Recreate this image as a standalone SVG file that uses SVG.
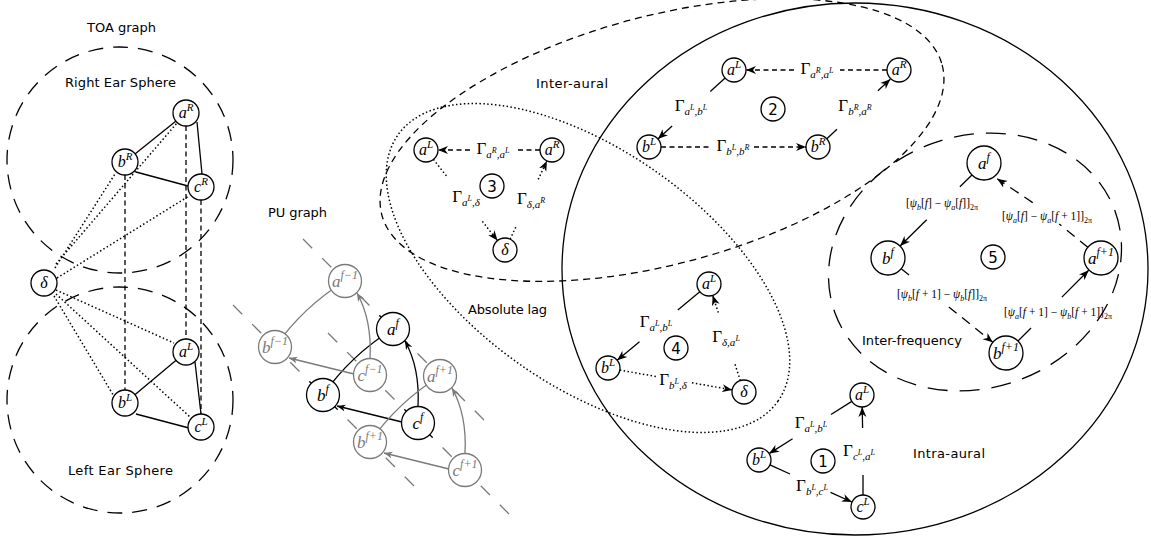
<svg xmlns="http://www.w3.org/2000/svg" width="1151" height="537" viewBox="0 0 1151 537">
<defs>
<style>
.n{fill:#fff;stroke:#000;stroke-width:1.3}
.ng{fill:#fff;stroke:#7a7a7a;stroke-width:1.3}
.e{fill:none;stroke:#000;stroke-width:1.3}
.eg{fill:none;stroke:#7a7a7a;stroke-width:1.3}
.da{stroke-dasharray:5 3.5}
.dl{stroke-dasharray:10 7}
.dt{stroke-dasharray:1.5 2.4;stroke-width:1.5}
.sph{fill:none;stroke:#000;stroke-width:1.3;stroke-dasharray:15 10}
.lbl{font-family:"DejaVu Sans",sans-serif;font-size:13px;fill:#000;text-anchor:middle}
.m{font-family:"Liberation Serif",serif;font-style:italic;font-size:16px;fill:#000;text-anchor:middle}
.mp{font-family:"Liberation Serif",serif;font-style:italic;font-size:17px;fill:#000;text-anchor:middle}
.gr{fill:#7a7a7a}
.sp{font-size:11px}
.spp{font-size:12px}
.G{font-family:"Liberation Serif",serif;font-size:17px;fill:#000;text-anchor:middle}
.s{font-style:italic;font-size:11px}
.ss{font-style:italic;font-size:8px}
.P{font-family:"Liberation Serif",serif;font-size:11.5px;fill:#000;text-anchor:middle}
.i{font-style:italic}
.s2{font-style:italic;font-size:8px}
.s2n{font-size:8px}
.num{font-family:"DejaVu Sans",sans-serif;font-size:15px;fill:#000;text-anchor:middle}
</style>
<marker id="ar" markerUnits="userSpaceOnUse" markerWidth="11" markerHeight="9" viewBox="0 0 11 9" refX="10" refY="4.5" orient="auto"><path d="M0,0.5 L10,4.5 L0,8.5 L3,4.5 z" fill="#000"/></marker>
<marker id="arp" markerUnits="userSpaceOnUse" markerWidth="9" markerHeight="7" viewBox="0 0 9 7" refX="8.5" refY="3.5" orient="auto"><path d="M0,0 L8.5,3.5 L0,7 L2.5,3.5 z" fill="#000"/></marker>
<marker id="arg" markerUnits="userSpaceOnUse" markerWidth="9" markerHeight="7" viewBox="0 0 9 7" refX="8.5" refY="3.5" orient="auto"><path d="M0,0 L8.5,3.5 L0,7 L2.5,3.5 z" fill="#7a7a7a"/></marker>
<clipPath id="blackzone">
<circle cx="393" cy="329" r="30"/><circle cx="323" cy="395" r="30"/><circle cx="418" cy="423" r="30"/>
</clipPath>
</defs>
<rect width="1151" height="537" fill="#fff"/>

<!-- regions -->
<g id="toa-right-sphere"><circle class="sph" cx="120" cy="160" r="113"/><text class="lbl" x="120.5" y="87" textLength="111">Right Ear Sphere</text></g>
<g id="toa-left-sphere"><circle class="sph" cx="120" cy="400" r="113"/><text class="lbl" x="120.5" y="475" textLength="105">Left Ear Sphere</text></g>
<g id="toa-title"><text class="lbl" x="121.5" y="32" textLength="69">TOA graph</text></g>
<g id="pu-title"><text class="lbl" x="297.5" y="217" textLength="59">PU graph</text></g>
<g id="intra-aural-region"><ellipse class="e" cx="855" cy="269" rx="293" ry="266"/><text class="lbl" x="949" y="458" textLength="72">Intra-aural</text></g>
<g id="inter-aural-region"><ellipse class="e" cx="662" cy="140" rx="290" ry="124" transform="rotate(-15 662 140)" stroke-dasharray="7 5"/><text class="lbl" x="572" y="88" textLength="72">Inter-aural</text></g>
<g id="absolute-lag-region"><ellipse class="e dt" cx="588" cy="268" rx="232" ry="118" transform="rotate(35 588 268)"/><text class="lbl" x="507.5" y="314" textLength="79">Absolute lag</text></g>
<g id="inter-frequency-region"><ellipse class="e" cx="975" cy="262" rx="149" ry="126" transform="rotate(-20 975 262)" stroke-dasharray="20 12"/><text class="lbl" x="912" y="345" textLength="100">Inter-frequency</text></g>

<!-- PU frequency lines -->
<g id="pu-frequency-lines">
<path class="eg" stroke-dasharray="13 14" d="M303,239 L484,420 M233,305 L414,486 M328,333 L509,514"/>
<g clip-path="url(#blackzone)"><path class="e" stroke-dasharray="13 14" d="M303,239 L484,420 M233,305 L414,486 M328,333 L509,514"/></g>
</g>

<!-- connectors -->
<g id="connectors">
<!-- TOA -->
<path class="e" d="M186,113 L125,162 M136,172 L188,186 M197,122 L202,174 M186,352 L125,403 M136,414 L189,428 M195,362 L201,414"/>
<path class="e da" d="M125,175 L125,390 M186,126 L186,339 M201,200 L201,414"/>
<path class="e dt" d="M56,264 L177,123 M55,268 L115,174 M57,278 L189,196 M56,290 L174,343 M54,296 L115,398 M56,294 L190,417"/>
<!-- PU -->
<path class="e" d="M323,395 Q351,355 393,329"/>
<path class="e" d="M418,406 Q420,368 405,341" marker-end="url(#arp)"/>
<path class="e" d="M402,422 L337,406" marker-end="url(#arp)"/>
<path class="eg" d="M275,347 Q303,307 345,281"/>
<path class="eg" d="M370,358 Q372,320 357,293" marker-end="url(#arg)"/>
<path class="eg" d="M354,374 L289,358" marker-end="url(#arg)"/>
<path class="eg" d="M370,442 Q398,402 440,376"/>
<path class="eg" d="M465,453 Q467,415 452,388" marker-end="url(#arg)"/>
<path class="eg" d="M449,469 L384,453" marker-end="url(#arg)"/>
<!-- Region 3 -->
<path class="e da" d="M540,150 L516,150"/><path class="e da" d="M470,150 L438,150" marker-end="url(#ar)"/>
<path class="e dt" d="M433.4,159.4 L447,176.7"/><path class="e dt" d="M482.4,221.4 L497.5,240.6" marker-end="url(#ar)"/>
<path class="e dt" d="M510.1,239.1 L516.5,225.6"/><path class="e dt" d="M538.2,179.4 L546.9,160.9" marker-end="url(#ar)"/>
<!-- Region 2 -->
<path class="e da" d="M887,70 L840,70"/><path class="e da" d="M794,70 L746,70" marker-end="url(#ar)"/>
<path class="e da" d="M661,147 L712,147"/><path class="e da" d="M754,147 L806,147" marker-end="url(#ar)"/>
<path class="e" d="M725.1,78.1 L710.3,91.5"/><path class="e" d="M672.1,126 L657.9,138.9" marker-end="url(#ar)"/>
<path class="e" d="M826.8,138.8 L837,129.2"/><path class="e" d="M877.9,90.8 L890.3,79.2" marker-end="url(#ar)"/>
<!-- Region 4 -->
<path class="e" d="M699.8,291.7 L677.8,309.9"/><path class="e" d="M639.5,341.8 L617.2,360.3" marker-end="url(#ar)"/>
<path class="e dt" d="M619.8,370.1 L658,376.8"/><path class="e dt" d="M692,382.8 L732.2,389.9" marker-end="url(#ar)"/>
<path class="e dt" d="M740.3,380.6 L734.3,362"/><path class="e dt" d="M718.3,312.6 L712.7,295.5" marker-end="url(#ar)"/>
<!-- Region 1 -->
<path class="e" d="M851.8,401.4 L831,414.5"/><path class="e" d="M792.6,438.8 L769.1,453.6" marker-end="url(#ar)"/>
<path class="e" d="M769.9,464.9 L790,474"/><path class="e" d="M830.5,492.3 L851.9,502" marker-end="url(#ar)"/>
<path class="e" d="M863,495 L863,475"/><path class="e" d="M862.6,428 L862.2,407" marker-end="url(#ar)"/>
<!-- Region 5 -->
<path class="e" d="M971.9,175 L959.9,186.8"/><path class="e" d="M926.7,219.7 L900.1,246" marker-end="url(#ar)"/>
<path class="e dl" d="M1087.8,247.3 L1059.2,224"/><path class="e dl" d="M1032.7,202.6 L997.2,178.8" marker-end="url(#ar)"/>
<path class="e dl" d="M901.2,268.7 L910.6,276.2"/><path class="e dl" d="M948.8,306.9 L992.8,342.3" marker-end="url(#ar)"/>
<path class="e" d="M1018,341 L1031,328"/><path class="e" d="M1061.9,297.1 L1088.7,270.3" marker-end="url(#ar)"/>
</g>

<!-- edge labels -->
<g id="edge-labels">
<text class="G" x="493" y="154">Γ<tspan class="s" dy="3.5">a</tspan><tspan class="ss" dy="-4.5">R</tspan><tspan class="s" dy="4.5">,a</tspan><tspan class="ss" dy="-4.5">L</tspan></text>
<text class="G" x="466" y="202">Γ<tspan class="s" dy="3.5">a</tspan><tspan class="ss" dy="-4.5">L</tspan><tspan class="s" dy="4.5">,δ</tspan></text>
<text class="G" x="531" y="204">Γ<tspan class="s" dy="3.5">δ,a</tspan><tspan class="ss" dy="-4.5">R</tspan></text>
<text class="G" x="817" y="74">Γ<tspan class="s" dy="3.5">a</tspan><tspan class="ss" dy="-4.5">R</tspan><tspan class="s" dy="4.5">,a</tspan><tspan class="ss" dy="-4.5">L</tspan></text>
<text class="G" x="733" y="151">Γ<tspan class="s" dy="3.5">b</tspan><tspan class="ss" dy="-4.5">L</tspan><tspan class="s" dy="4.5">,b</tspan><tspan class="ss" dy="-4.5">R</tspan></text>
<text class="G" x="691" y="111">Γ<tspan class="s" dy="3.5">a</tspan><tspan class="ss" dy="-4.5">L</tspan><tspan class="s" dy="4.5">,b</tspan><tspan class="ss" dy="-4.5">L</tspan></text>
<text class="G" x="855" y="111">Γ<tspan class="s" dy="3.5">b</tspan><tspan class="ss" dy="-4.5">R</tspan><tspan class="s" dy="4.5">,a</tspan><tspan class="ss" dy="-4.5">R</tspan></text>
<text class="G" x="656" y="327">Γ<tspan class="s" dy="3.5">a</tspan><tspan class="ss" dy="-4.5">L</tspan><tspan class="s" dy="4.5">,b</tspan><tspan class="ss" dy="-4.5">L</tspan></text>
<text class="G" x="673" y="385">Γ<tspan class="s" dy="3.5">b</tspan><tspan class="ss" dy="-4.5">L</tspan><tspan class="s" dy="4.5">,δ</tspan></text>
<text class="G" x="726" y="342">Γ<tspan class="s" dy="3.5">δ,a</tspan><tspan class="ss" dy="-4.5">L</tspan></text>
<text class="G" x="811" y="428">Γ<tspan class="s" dy="3.5">a</tspan><tspan class="ss" dy="-4.5">L</tspan><tspan class="s" dy="4.5">,b</tspan><tspan class="ss" dy="-4.5">L</tspan></text>
<text class="G" x="812" y="491">Γ<tspan class="s" dy="3.5">b</tspan><tspan class="ss" dy="-4.5">L</tspan><tspan class="s" dy="4.5">,c</tspan><tspan class="ss" dy="-4.5">L</tspan></text>
<text class="G" x="859" y="456">Γ<tspan class="s" dy="3.5">c</tspan><tspan class="ss" dy="-4.5">L</tspan><tspan class="s" dy="4.5">,a</tspan><tspan class="ss" dy="-4.5">L</tspan></text>
<text class="P" x="942" y="207">[<tspan class="i">ψ</tspan><tspan class="s2" dy="2.5">b</tspan><tspan dy="-2.5">[</tspan><tspan class="i">f</tspan>] − <tspan class="i">ψ</tspan><tspan class="s2" dy="2.5">a</tspan><tspan dy="-2.5">[</tspan><tspan class="i">f</tspan>]]<tspan class="s2n" dy="2.5">2π</tspan></text>
<text class="P" x="1047" y="220">[<tspan class="i">ψ</tspan><tspan class="s2" dy="2.5">a</tspan><tspan dy="-2.5">[</tspan><tspan class="i">f</tspan>] − <tspan class="i">ψ</tspan><tspan class="s2" dy="2.5">a</tspan><tspan dy="-2.5">[</tspan><tspan class="i">f</tspan> + 1]]<tspan class="s2n" dy="2.5">2π</tspan></text>
<text class="P" x="942" y="298">[<tspan class="i">ψ</tspan><tspan class="s2" dy="2.5">b</tspan><tspan dy="-2.5">[</tspan><tspan class="i">f</tspan> + 1] − <tspan class="i">ψ</tspan><tspan class="s2" dy="2.5">b</tspan><tspan dy="-2.5">[</tspan><tspan class="i">f</tspan>]]<tspan class="s2n" dy="2.5">2π</tspan></text>
<text class="P" x="1058" y="316">[<tspan class="i">ψ</tspan><tspan class="s2" dy="2.5">a</tspan><tspan dy="-2.5">[</tspan><tspan class="i">f</tspan> + 1] − <tspan class="i">ψ</tspan><tspan class="s2" dy="2.5">b</tspan><tspan dy="-2.5">[</tspan><tspan class="i">f</tspan> + 1]]<tspan class="s2n" dy="2.5">2π</tspan></text>
</g>

<!-- TOA nodes -->
<g id="toa-aR"><circle class="n" cx="186" cy="113" r="13"/><text class="m" x="186" y="118">a<tspan class="sp" dy="-7">R</tspan></text></g>
<g id="toa-bR"><circle class="n" cx="125" cy="162" r="13"/><text class="m" x="125" y="167">b<tspan class="sp" dy="-7">R</tspan></text></g>
<g id="toa-cR"><circle class="n" cx="201" cy="187" r="13"/><text class="m" x="201" y="192">c<tspan class="sp" dy="-7">R</tspan></text></g>
<g id="toa-delta"><circle class="n" cx="44" cy="283" r="13"/><text class="m" x="44" y="288">δ</text></g>
<g id="toa-aL"><circle class="n" cx="186" cy="352" r="13"/><text class="m" x="186" y="357">a<tspan class="sp" dy="-7">L</tspan></text></g>
<g id="toa-bL"><circle class="n" cx="125" cy="403" r="13"/><text class="m" x="125" y="408">b<tspan class="sp" dy="-7">L</tspan></text></g>
<g id="toa-cL"><circle class="n" cx="201" cy="427" r="13"/><text class="m" x="201" y="432">c<tspan class="sp" dy="-7">L</tspan></text></g>

<!-- PU nodes -->
<g id="pu-a-fm1"><circle class="ng" cx="345" cy="281" r="16.5"/><text class="mp gr" x="345" y="286.5">a<tspan class="spp" dy="-7.5">f−1</tspan></text></g>
<g id="pu-b-fm1"><circle class="ng" cx="275" cy="347" r="16.5"/><text class="mp gr" x="275" y="352.5">b<tspan class="spp" dy="-7.5">f−1</tspan></text></g>
<g id="pu-c-fm1"><circle class="ng" cx="370" cy="375" r="16.5"/><text class="mp gr" x="370" y="380.5">c<tspan class="spp" dy="-7.5">f−1</tspan></text></g>
<g id="pu-a-f"><circle class="n" cx="393" cy="329" r="16.5"/><text class="mp" x="393" y="334.5">a<tspan class="spp" dy="-7.5">f</tspan></text></g>
<g id="pu-b-f"><circle class="n" cx="323" cy="395" r="16.5"/><text class="mp" x="323" y="400.5">b<tspan class="spp" dy="-7.5">f</tspan></text></g>
<g id="pu-c-f"><circle class="n" cx="418" cy="423" r="16.5"/><text class="mp" x="418" y="428.5">c<tspan class="spp" dy="-7.5">f</tspan></text></g>
<g id="pu-a-fp1"><circle class="ng" cx="440" cy="376" r="16.5"/><text class="mp gr" x="440" y="381.5">a<tspan class="spp" dy="-7.5">f+1</tspan></text></g>
<g id="pu-b-fp1"><circle class="ng" cx="370" cy="442" r="16.5"/><text class="mp gr" x="370" y="447.5">b<tspan class="spp" dy="-7.5">f+1</tspan></text></g>
<g id="pu-c-fp1"><circle class="ng" cx="465" cy="470" r="16.5"/><text class="mp gr" x="465" y="475.5">c<tspan class="spp" dy="-7.5">f+1</tspan></text></g>

<!-- Region 3 nodes -->
<g id="r3-aL"><circle class="n" cx="426" cy="150" r="12"/><text class="m" x="426" y="155">a<tspan class="sp" dy="-7">L</tspan></text></g>
<g id="r3-aR"><circle class="n" cx="552" cy="150" r="12"/><text class="m" x="552" y="155">a<tspan class="sp" dy="-7">R</tspan></text></g>
<g id="r3-delta"><circle class="n" cx="505" cy="250" r="12"/><text class="m" x="505" y="255">δ</text></g>
<g id="r3-num"><circle class="n" cx="492" cy="186" r="12"/><text class="num" x="492" y="191.5">3</text></g>

<!-- Region 2 nodes -->
<g id="r2-aL"><circle class="n" cx="734" cy="70" r="12"/><text class="m" x="734" y="75">a<tspan class="sp" dy="-7">L</tspan></text></g>
<g id="r2-aR"><circle class="n" cx="899" cy="70" r="12"/><text class="m" x="899" y="75">a<tspan class="sp" dy="-7">R</tspan></text></g>
<g id="r2-bL"><circle class="n" cx="649" cy="147" r="12"/><text class="m" x="649" y="152">b<tspan class="sp" dy="-7">L</tspan></text></g>
<g id="r2-bR"><circle class="n" cx="818" cy="147" r="12"/><text class="m" x="818" y="152">b<tspan class="sp" dy="-7">R</tspan></text></g>
<g id="r2-num"><circle class="n" cx="773" cy="109" r="12"/><text class="num" x="773" y="114.5">2</text></g>

<!-- Region 4 nodes -->
<g id="r4-aL"><circle class="n" cx="709" cy="284" r="12"/><text class="m" x="709" y="289">a<tspan class="sp" dy="-7">L</tspan></text></g>
<g id="r4-bL"><circle class="n" cx="608" cy="368" r="12"/><text class="m" x="608" y="373">b<tspan class="sp" dy="-7">L</tspan></text></g>
<g id="r4-delta"><circle class="n" cx="744" cy="392" r="12"/><text class="m" x="744" y="397">δ</text></g>
<g id="r4-num"><circle class="n" cx="676" cy="348" r="12"/><text class="num" x="676" y="353.5">4</text></g>

<!-- Region 1 nodes -->
<g id="r1-aL"><circle class="n" cx="862" cy="395" r="12"/><text class="m" x="862" y="400">a<tspan class="sp" dy="-7">L</tspan></text></g>
<g id="r1-bL"><circle class="n" cx="759" cy="460" r="12"/><text class="m" x="759" y="465">b<tspan class="sp" dy="-7">L</tspan></text></g>
<g id="r1-cL"><circle class="n" cx="863" cy="507" r="12"/><text class="m" x="863" y="512">c<tspan class="sp" dy="-7">L</tspan></text></g>
<g id="r1-num"><circle class="n" cx="823" cy="461" r="12"/><text class="num" x="823" y="466.5">1</text></g>

<!-- Region 5 nodes -->
<g id="r5-af"><circle class="n" cx="984" cy="163" r="17"/><text class="mp" x="984" y="168.5">a<tspan class="spp" dy="-7.5">f</tspan></text></g>
<g id="r5-bf"><circle class="n" cx="888" cy="258" r="17"/><text class="mp" x="888" y="263.5">b<tspan class="spp" dy="-7.5">f</tspan></text></g>
<g id="r5-af1"><circle class="n" cx="1101" cy="258" r="17"/><text class="mp" x="1101" y="263.5">a<tspan class="spp" dy="-7.5">f+1</tspan></text></g>
<g id="r5-bf1"><circle class="n" cx="1006" cy="353" r="17"/><text class="mp" x="1006" y="358.5">b<tspan class="spp" dy="-7.5">f+1</tspan></text></g>
<g id="r5-num"><circle class="n" cx="993" cy="257" r="12"/><text class="num" x="993" y="262.5">5</text></g>
</svg>
